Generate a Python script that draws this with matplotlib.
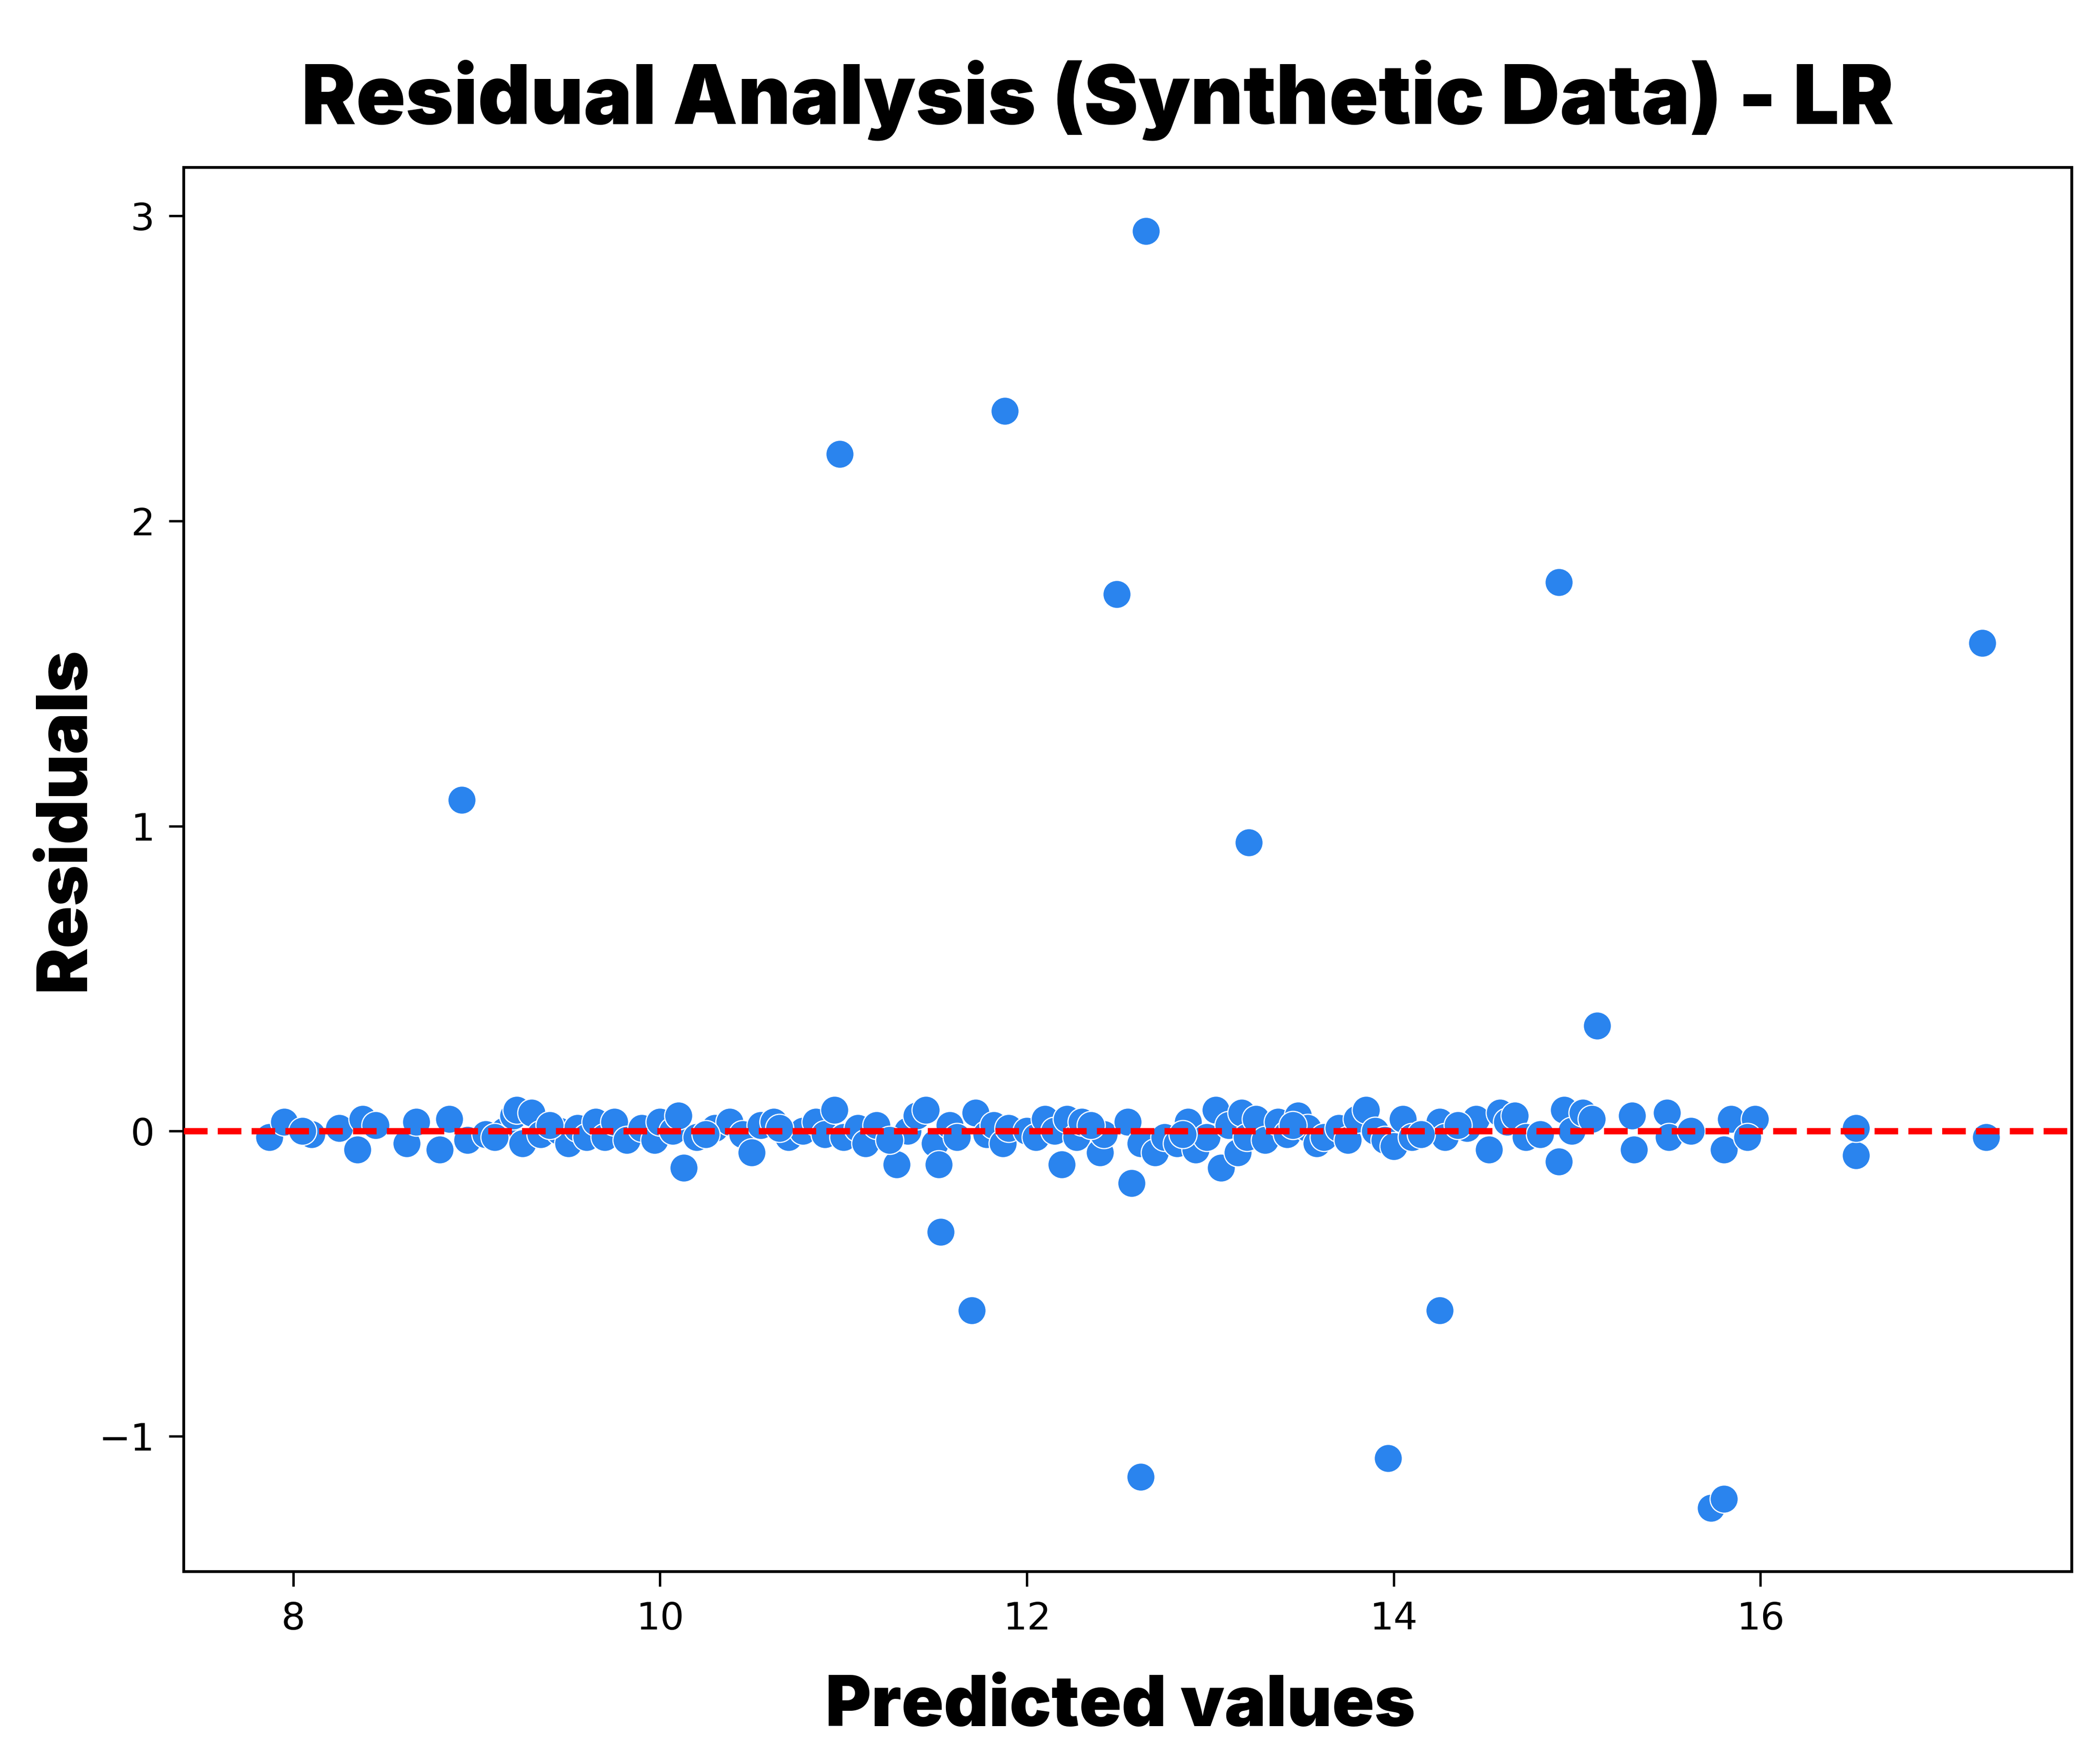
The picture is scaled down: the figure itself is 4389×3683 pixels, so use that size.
import matplotlib
matplotlib.use("Agg")
import matplotlib.pyplot as plt
from matplotlib import font_manager

# predicted values (x) and residuals (y)
predicted = [
    8.92, 10.98, 11.88, 12.65, 12.49, 13.21, 14.90, 17.21, 15.11,
    11.53, 11.70, 14.25, 12.62, 13.97, 15.73, 15.80,
    17.23, 16.52, 16.52, 12.57, 10.13, 11.29, 12.19, 13.06, 14.90,
    15.31, 15.30, 15.49, 15.50, 15.62, 15.80, 15.84, 15.97, 15.93,
    7.87, 7.95, 8.10, 8.25, 8.35, 8.38, 8.62, 8.67, 8.80, 8.85,
    8.95, 9.05, 9.15, 9.20, 9.22, 9.25, 9.30, 9.35, 9.45, 9.50,
    9.55, 9.60, 9.65, 9.70, 9.75, 9.82, 9.90, 9.97, 10.00, 10.07,
    10.10, 10.20, 10.30, 10.38, 10.45, 10.50, 10.55, 10.62, 10.70, 10.78,
    10.85, 10.90, 10.95, 11.00, 11.08, 11.12, 11.18, 11.35, 11.40, 11.45,
    11.50, 11.52, 11.58, 11.62, 11.72, 11.78, 11.82, 11.87, 11.90, 12.00,
    12.05, 12.10, 12.15, 12.22, 12.27, 12.30, 12.40, 12.42, 12.55, 12.62,
    12.70, 12.75, 12.82, 12.88, 12.92, 12.98, 13.03, 13.10, 13.15, 13.17,
    13.20, 13.25, 13.30, 13.37, 13.42, 13.48, 13.53, 13.58, 13.62, 13.70,
    13.75, 13.80, 13.85, 13.90, 13.95, 14.00, 14.05, 14.10, 14.25, 14.28,
    14.40, 14.45, 14.52, 14.58, 14.62, 14.66, 14.72, 14.93, 14.97, 15.03,
    15.08, 8.05, 8.45, 9.10, 9.40, 10.25, 10.65, 11.25, 12.35, 12.85,
    13.45, 14.15, 14.35, 14.80,
]
residuals = [
    1.086, 2.22, 2.36, 2.95, 1.76, 0.946, 1.80, 1.60, 0.346,
    -0.33, -0.587, -0.587, -1.134, -1.073, -1.235, -1.205,
    -0.02, -0.08, 0.01, -0.17, -0.12, -0.11, -0.11, -0.12, -0.10,
    -0.06, 0.05, 0.06, -0.02, 0.00, -0.06, 0.04, 0.04, -0.02,
    -0.02, 0.03, -0.01, 0.01, -0.06, 0.04, -0.04, 0.03, -0.06, 0.04,
    -0.03, -0.01, 0.00, 0.05, 0.07, -0.04, 0.06, -0.01, 0.00, -0.04,
    0.01, -0.02, 0.03, -0.02, 0.03, -0.03, 0.01, -0.03, 0.03, 0.00,
    0.05, -0.02, 0.01, 0.03, -0.01, -0.07, 0.02, 0.03, -0.02, 0.00,
    0.03, -0.01, 0.07, -0.02, 0.01, -0.04, 0.02, 0.00, 0.05, 0.07,
    -0.04, -0.11, 0.02, -0.02, 0.06, -0.01, 0.02, -0.04, 0.01, 0.00,
    -0.02, 0.04, 0.00, 0.04, -0.02, 0.03, -0.07, -0.01, 0.03, -0.04,
    -0.07, -0.02, -0.04, 0.03, -0.06, -0.02, 0.07, 0.02, -0.07, 0.06,
    -0.02, 0.04, -0.03, 0.03, -0.01, 0.05, 0.01, -0.04, -0.02, 0.01,
    -0.03, 0.04, 0.07, 0.00, -0.03, -0.05, 0.04, -0.02, 0.03, -0.02,
    0.01, 0.04, -0.06, 0.06, 0.03, 0.05, -0.02, 0.07, 0.00, 0.06,
    0.04, 0.00, 0.02, -0.02, 0.02, -0.01, 0.01, -0.03, 0.02, -0.01,
    0.02, -0.01, 0.02, -0.01,
]

names = {f.name for f in font_manager.fontManager.ttflist}
heavy = [f for f in ["Inter", "Lato", "Roboto", "Open Sans"] if f in names] + ["DejaVu Sans"]

fig, ax = plt.subplots(figsize=(14.63, 12.277), dpi=300)
fig.subplots_adjust(left=0.0874, right=0.9866, top=0.905, bottom=0.108)

ax.scatter(predicted, residuals, s=200, color="#2a84ee", edgecolor="white",
           linewidth=0.6, zorder=2)
ax.axhline(0, color="red", linestyle="--", linewidth=3.2, zorder=3)

ax.set_title("Residual Analysis (Synthetic Data) - LR", fontsize=41,
             fontweight="black", family=heavy, pad=22, x=0.484)
ax.set_xlabel("Predicted values", fontsize=35, fontweight="black",
              family=heavy, labelpad=19, x=0.496)
ax.set_ylabel("Residuals", fontsize=35, fontweight="black",
              family=heavy, labelpad=0, y=0.536)

ax.set_xticks([8, 10, 12, 14, 16])
ax.set_yticks([-1, 0, 1, 2, 3])
ax.tick_params(labelsize=19, width=1.2, length=7.5, pad=7)
for sp in ax.spines.values():
    sp.set_linewidth(1.4)

fig.savefig("out.png", dpi=300)
